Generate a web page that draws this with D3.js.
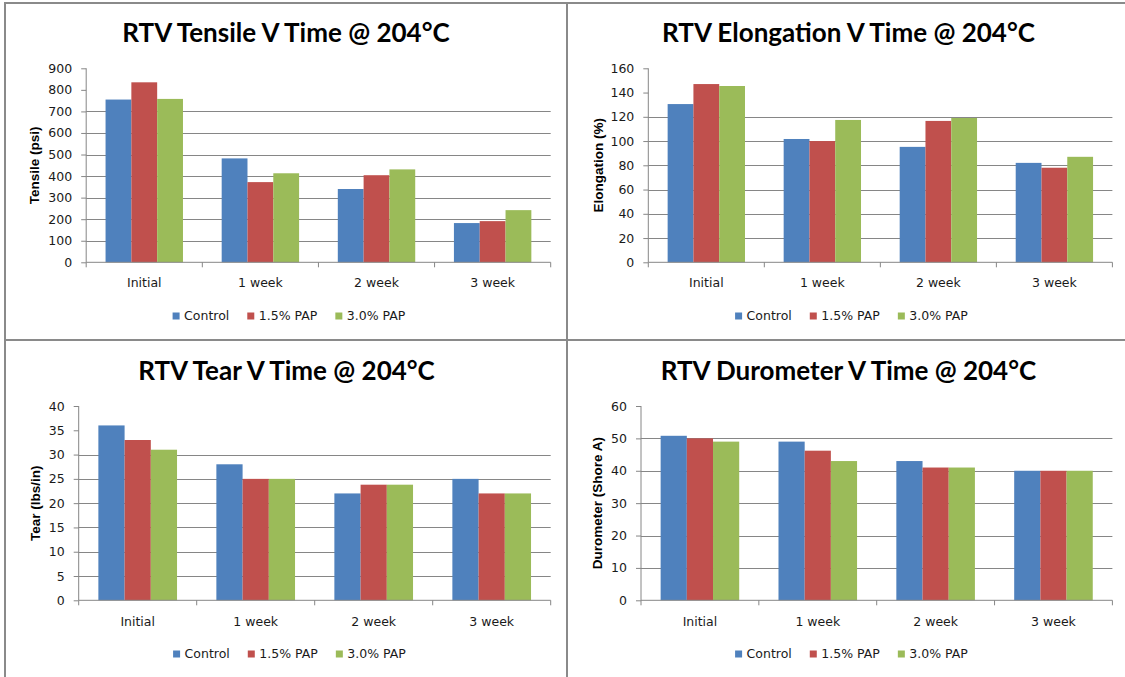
<!DOCTYPE html>
<html>
<head>
<meta charset="utf-8">
<script src="https://cdn.jsdelivr.net/npm/d3@7"></script>
<style>
  html, body { margin: 0; padding: 0; background: #fff; }
  svg { display: block; }
  .tick-label { font-family: "DejaVu Sans", sans-serif; font-size: 12.5px; fill: #1a1a1a; }
  .axis-title { font-family: "Liberation Sans", Arial, sans-serif; font-size: 13.5px; font-weight: bold; fill: #000; }
  .chart-title { font-family: Lato, "Liberation Sans", sans-serif; font-size: 26px; font-weight: bold; fill: #000; }
</style>
</head>
<body>
<svg id="chart" width="1125" height="677"></svg>
<script>
// ── Data ────────────────────────────────────────────────────────────────────
const categories = ['Initial', '1 week', '2 week', '3 week'];
const seriesNames = ['Control', '1.5% PAP', '3.0% PAP'];
const seriesColors = ['#4F81BD', '#C0504D', '#9BBB59'];

// values per series, in category order
const tensileValues = [
  [755, 482, 340, 182],   // Control
  [835, 372, 404, 191],   // 1.5% PAP
  [758, 413, 431, 242]    // 3.0% PAP
];
const elongationValues = [
  [130.5, 101.7, 95.2, 82],
  [147, 100, 116.6, 78],
  [145.4, 117.4, 119, 87]
];
const tearValues = [
  [36, 28, 22, 25],
  [33, 25, 23.8, 22],
  [31, 25, 23.8, 22]
];
const durometerValues = [
  [50.8, 49, 43, 40],
  [50, 46.2, 41, 40],
  [49, 43, 41, 40]
];

const tensileTicks = [0, 100, 200, 300, 400, 500, 600, 700, 800, 900];
const elongationTicks = [0, 20, 40, 60, 80, 100, 120, 140, 160];
const tearTicks = [0, 5, 10, 15, 20, 25, 30, 35, 40];
const durometerTicks = [0, 10, 20, 30, 40, 50, 60];

// ── Layout of the four panels ───────────────────────────────────────────────
const charts = [
  { title: 'RTV Tensile V Time @ 204°C', yTitle: 'Tensile (psi)', values: tensileValues, ticks: tensileTicks,
    gridTop: 700, left: 86.2, right: 550.7, top: 68.3, bottom: 262.3, cx: 286, titleY: 41.5, yTitleX: 34.5, legendY: 316, catY: 287 },
  { title: 'RTV Elongation V Time @ 204°C', yTitle: 'Elongation (%)', values: elongationValues, ticks: elongationTicks,
    gridTop: 120, left: 648.3, right: 1112.4, top: 68.3, bottom: 262.3, cx: 848.5, titleY: 41.5, yTitleX: 598, legendY: 316, catY: 287 },
  { title: 'RTV Tear V Time @ 204°C', yTitle: 'Tear (lbs/in)', values: tearValues, ticks: tearTicks,
    gridTop: 30, left: 78.7, right: 550.7, top: 406, bottom: 600.3, cx: 286.5, titleY: 380, yTitleX: 35.3, legendY: 654, catY: 626 },
  { title: 'RTV Durometer V Time @ 204°C', yTitle: 'Durometer (Shore A)', values: durometerValues, ticks: durometerTicks,
    gridTop: 50, left: 641, right: 1112.4, top: 406, bottom: 600.3, cx: 848.5, titleY: 380, yTitleX: 597, legendY: 654, catY: 626 }
];

const svg = d3.select('#chart');
const AXIS = '#868686';

// ── Panel frame ─────────────────────────────────────────────────────────────
const frame = svg.append('g').attr('stroke', '#8a8a8a').attr('stroke-width', 2);
frame.append('line').attr('x1', 5).attr('x2', 5).attr('y1', 2).attr('y2', 677);
frame.append('line').attr('x1', 4).attr('x2', 1125).attr('y1', 3).attr('y2', 3);
frame.append('line').attr('x1', 567).attr('x2', 567).attr('y1', 2).attr('y2', 677);
frame.append('line').attr('x1', 4).attr('x2', 1125).attr('y1', 340).attr('y2', 340);

charts.forEach(drawChart);

function drawChart(c) {
  const g = svg.append('g');
  const ticks = c.ticks;

  const y = d3.scaleLinear().domain([0, d3.max(ticks)]).range([c.bottom, c.top]);
  const x0 = d3.scaleBand().domain(categories).range([c.left, c.right]).padding(0);
  const bw = x0.bandwidth();
  const x1 = d3.scaleBand().domain(seriesNames).range([bw / 6, bw * 5 / 6]).padding(0);

  // gridlines
  g.append('g').selectAll('line').data(ticks.filter(t => t > 0 && t <= c.gridTop)).join('line')
    .attr('x1', c.left).attr('x2', c.right)
    .attr('y1', d => Math.round(y(d)) + 0.5).attr('y2', d => Math.round(y(d)) + 0.5)
    .attr('stroke', AXIS).attr('stroke-width', 1);

  // bars
  const rows = [];
  seriesNames.forEach((s, si) => categories.forEach((cat, ci) =>
    rows.push({ s, si, cat, v: c.values[si][ci] })));
  g.append('g').selectAll('rect').data(rows).join('rect')
    .attr('x', d => x0(d.cat) + x1(d.s))
    .attr('width', x1.bandwidth())
    .attr('y', d => y(d.v))
    .attr('height', d => y(0) - y(d.v))
    .attr('fill', d => seriesColors[d.si]);

  // y axis
  const yAxis = d3.axisLeft(y).tickValues(ticks).tickSize(5).tickPadding(9).tickFormat(d3.format('d'));
  const ya = g.append('g').attr('transform', `translate(${c.left},0)`).call(yAxis);
  ya.select('.domain').attr('stroke', AXIS).attr('d', `M0,${c.top}V${c.bottom}`);
  ya.selectAll('.tick line').attr('stroke', AXIS);
  ya.selectAll('.tick text').attr('class', 'tick-label').attr('fill', null);

  // x axis: tick marks at band boundaries
  const xa = g.append('g');
  xa.append('line').attr('x1', c.left).attr('x2', c.right)
    .attr('y1', c.bottom).attr('y2', c.bottom).attr('stroke', AXIS);
  const edges = categories.map(cat => x0(cat)).concat([c.right]);
  xa.selectAll('line.edge').data(edges).join('line').attr('class', 'edge')
    .attr('x1', d => d).attr('x2', d => d)
    .attr('y1', c.bottom).attr('y2', c.bottom + 5).attr('stroke', AXIS);
  xa.selectAll('text').data(categories).join('text')
    .attr('class', 'tick-label')
    .attr('x', d => x0(d) + bw / 2).attr('y', c.catY)
    .attr('text-anchor', 'middle')
    .text(d => d);

  // titles
  g.append('text').attr('class', 'chart-title')
    .attr('x', c.cx).attr('y', c.titleY).attr('text-anchor', 'middle').text(c.title);
  g.append('text').attr('class', 'axis-title')
    .attr('transform', `translate(${c.yTitleX},${(c.top + c.bottom) / 2}) rotate(-90)`)
    .attr('text-anchor', 'middle').attr('dy', '0.35em').text(c.yTitle);

  // legend, centred under the panel
  const lg = g.append('g');
  let cursor = 0;
  seriesNames.forEach((s, i) => {
    lg.append('rect').attr('x', cursor).attr('y', c.legendY - 3.5).attr('width', 7).attr('height', 7)
      .attr('fill', seriesColors[i]);
    const t = lg.append('text').attr('class', 'tick-label')
      .attr('x', cursor + 11.5).attr('y', c.legendY).attr('dy', '0.35em').text(s);
    cursor += 11.5 + t.node().getComputedTextLength() + (i < seriesNames.length - 1 ? 18 : 0);
  });
  lg.attr('transform', `translate(${c.cx + 3 - cursor / 2},0)`);
}
</script>
</body>
</html>
